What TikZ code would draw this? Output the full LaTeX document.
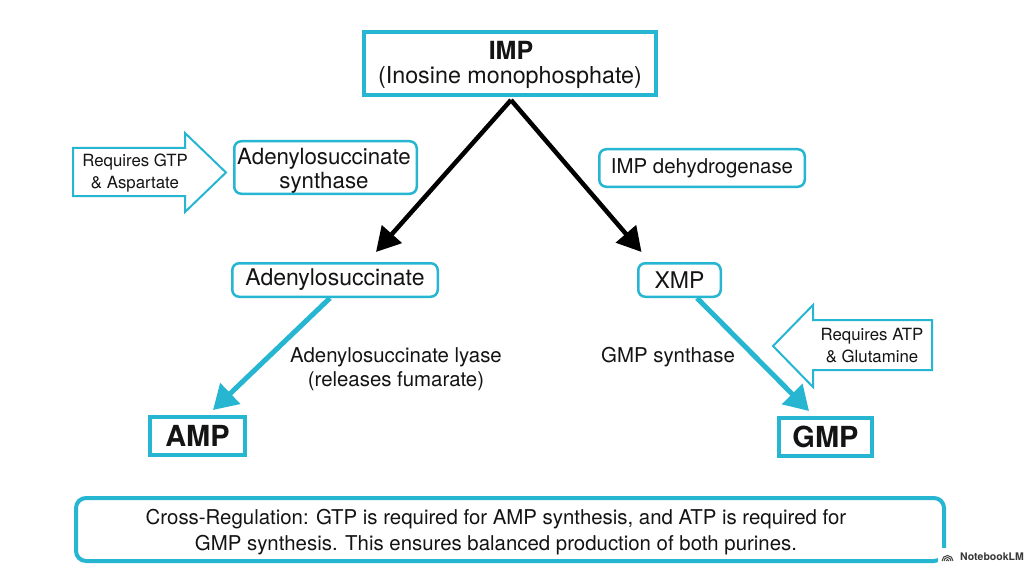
\documentclass[tikz,border=0pt]{standalone}
\usepackage{fontspec}
\setmainfont{TeX Gyre Heros}
\usetikzlibrary{arrows.meta,calc}
\definecolor{cy}{RGB}{38,182,210}
\definecolor{ink}{RGB}{20,20,20}
\begin{document}
\begin{tikzpicture}[x=1pt,y=-1pt,
  thickbox/.style={draw=cy, line width=4pt, fill=white, inner sep=0pt, align=center, text=ink},
  thinbox/.style={draw=cy, line width=2.5pt, fill=white, rounded corners=7pt, inner sep=0pt, align=center, text=ink},
  lbl/.style={inner sep=0pt, align=center, text=ink},
  blackarrow/.style={draw=black, line width=4.5pt, -{Triangle[length=24pt,width=26pt]}},
  cyanarrow/.style={draw=cy, line width=5pt, -{Triangle[length=24pt,width=28pt]}},
  blockarrow/.style={draw=cy, line width=2pt, fill=white, line join=miter},
  fsmall/.style={font=\fontsize{16.8}{22.5}\selectfont},
  fmid/.style={font=\fontsize{20.4}{23.5}\selectfont},
  flarge/.style={font=\fontsize{23}{24}\selectfont}
]
\useasboundingbox (0,0) rectangle (1024,572);
\fill[white] (0,0) rectangle (1024,572);

% IMP
\node[thickbox, minimum width=292pt, minimum height=63pt] (imp) at (510,63.5) {};
\node[lbl, font=\bfseries\fontsize{25}{25}\selectfont] (impt) at (511,50) {IMP};
\node[lbl, font=\fontsize{23.3}{25}\selectfont] (impsub) at (510,78) {(Inosine monophosphate)};

% enzyme boxes
\node[thinbox, minimum width=182.5pt, minimum height=52.5pt] (synth) at (325.5,167.5) {};
\node[lbl, font=\fontsize{22.3}{24}\selectfont] (syntht) at (324,171) {Adenylosuccinate\\synthase};
\node[thinbox, fmid, minimum width=205.5pt, minimum height=37.5pt] (dehyd) at (702,168) {IMP dehydrogenase};

% intermediates
\node[thinbox, flarge, minimum width=205.5pt, minimum height=33.5pt] (adeno) at (335,280) {Adenylosuccinate};
\node[thinbox, flarge, minimum width=82.5pt, minimum height=33.5pt] (xmp) at (679.5,280) {XMP};

% products
\node[thickbox, font=\bfseries\fontsize{29}{29}\selectfont, minimum width=95pt, minimum height=38pt] (amp) at (197.5,436) {AMP};
\node[thickbox, font=\bfseries\fontsize{29}{29}\selectfont, minimum width=93pt, minimum height=38pt] (gmp) at (825.5,437) {GMP};

% black arrows
\coordinate (impfork) at ($(imp.south)+(1,3)$);
\draw[blackarrow] (impfork) -- ($(adeno.north)+(41,-10)$);
\draw[blackarrow] (impfork) -- ($(xmp.north)+(-38,-10)$);

% cyan arrows
\draw[cyanarrow] ($(adeno.south)+(-5,0)$) -- ($(amp.north)+(15.5,-5)$);
\draw[cyanarrow] ($(xmp.south)+(17.5,0)$) -- ($(gmp.north)+(-16.5,-5)$);

% labels on cyan arrows
\node[lbl, fmid] (lyase) at (396,369) {Adenylosuccinate lyase\\(releases fumarate)};
\node[lbl, fmid] (gmpsyn) at (668,357) {GMP synthase};

% block arrows
\draw[blockarrow] (73,148) -- (185,148) -- (185,133) -- (226,172.5) -- (185,212) -- (185,196) -- (73,196) -- cycle;
\node[lbl, fsmall] (reqgtp) at (135,173) {Requires GTP\\\& Aspartate};
\draw[blockarrow] (932,320) -- (813,320) -- (813,305) -- (773,346) -- (813,387) -- (813,370) -- (932,370) -- cycle;
\node[lbl, fsmall] (reqatp) at (872,345.5) {Requires ATP\\\& Glutamine};

% bottom note
\node[draw=cy, line width=4pt, fill=white, rounded corners=10pt, minimum width=868pt, minimum height=63pt, inner sep=0pt] (note) at (510,529.5) {};
\node[lbl, font=\fontsize{20.4}{26}\selectfont] (notet) at (496,532.5) {Cross-Regulation: GTP is required for AMP synthesis, and ATP is required for\\GMP synthesis. This ensures balanced production of both purines.};

% watermark
\fill[white] (938,548) rectangle (1024,566);
\begin{scope}[line width=1pt, draw=ink!80]
\draw (946,561) arc[start angle=180,end angle=0,radius=1.5pt];
\draw (946,561) ++(-2,0) arc[start angle=180,end angle=0,radius=3.5pt];
\draw (946,561) ++(-4,0) arc[start angle=180,end angle=0,radius=5.5pt];
\end{scope}
\node[lbl, anchor=west, font=\bfseries\fontsize{10.5}{12}\selectfont, text=ink!85] (nlm) at (960,557) {NotebookLM};
\end{tikzpicture}
\end{document}
